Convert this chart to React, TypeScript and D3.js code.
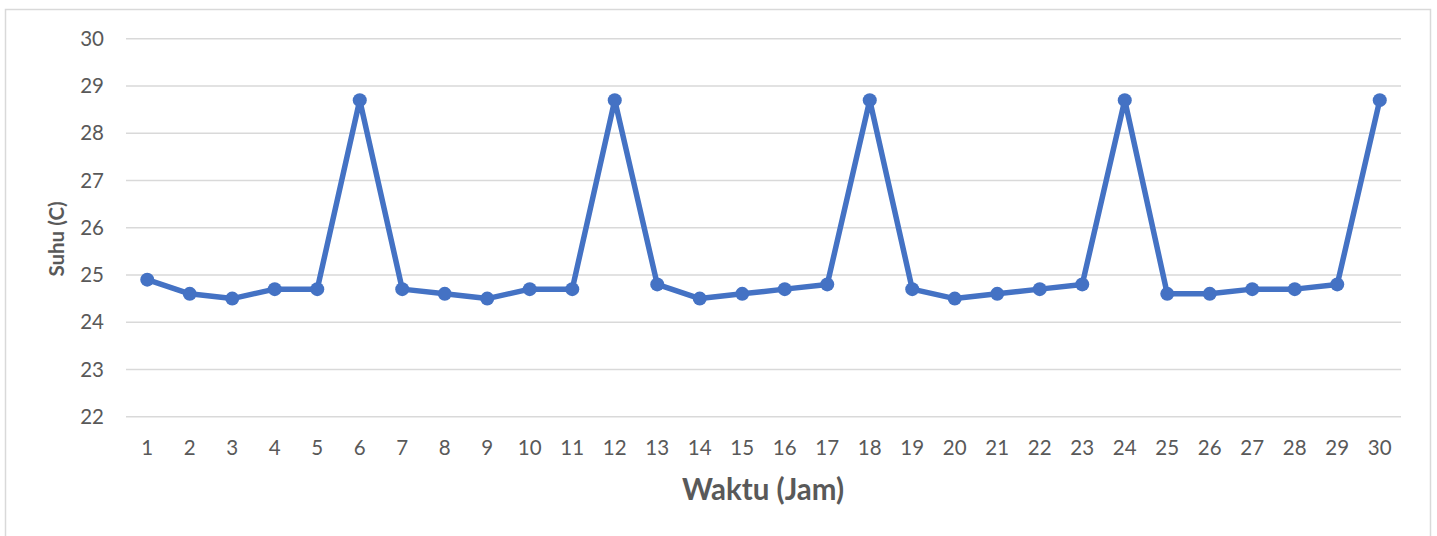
import React, { useEffect, useRef } from 'react';
import * as d3 from 'd3';

const hours = d3.range(1, 31).map(String);
const temps = [
  24.9, 24.6, 24.5, 24.7, 24.7, 28.7, 24.7, 24.6, 24.5, 24.7,
  24.7, 28.7, 24.8, 24.5, 24.6, 24.7, 24.8, 28.7, 24.7, 24.5,
  24.6, 24.7, 24.8, 28.7, 24.6, 24.6, 24.7, 24.7, 24.8, 28.7,
];
const yTicks = [22, 23, 24, 25, 26, 27, 28, 29, 30];

const W = 1437;
const H = 536;
const FONT = 'Lato, "Open Sans", sans-serif';

const App: React.FC = () => {
  const svgRef = useRef<SVGSVGElement>(null);

  useEffect(() => {
    if (!svgRef.current) return;
    const svg = d3.select(svgRef.current);
    svg.selectAll('*').remove();

    // plot area, in page pixels
    const left = 126, right = 1401, top = 38.7, bottom = 416.7;

    const x = d3.scaleBand().domain(hours).range([left, right]);
    const y = d3.scaleLinear().domain([22, 30]).range([bottom, top]);

    // outer frame
    svg.append('rect')
      .attr('x', 5.5).attr('y', 9.5)
      .attr('width', 1425).attr('height', 540)
      .attr('fill', '#fff')
      .attr('stroke', '#d9d9d9')
      .attr('stroke-width', 1.5);

    // gridlines
    svg.append('g')
      .selectAll('line')
      .data(yTicks)
      .enter().append('line')
      .attr('x1', left).attr('x2', right)
      .attr('y1', d => y(d)).attr('y2', d => y(d))
      .attr('stroke', '#d9d9d9')
      .attr('stroke-width', 1.5);

    // y tick labels
    svg.append('g')
      .selectAll('text')
      .data(yTicks)
      .enter().append('text')
      .attr('x', 104)
      .attr('y', d => y(d))
      .attr('dy', '0.35em')
      .style('text-anchor', 'end')
      .style('font-family', FONT)
      .style('font-size', '20.5px')
      .style('fill', '#595959')
      .text(d => d);

    // x tick labels
    svg.append('g')
      .selectAll('text')
      .data(hours)
      .enter().append('text')
      .attr('x', d => (x(d) || 0) + x.bandwidth() / 2)
      .attr('y', 448)
      .attr('dy', '0.35em')
      .style('text-anchor', 'middle')
      .style('font-family', FONT)
      .style('font-size', '20.5px')
      .style('fill', '#595959')
      .text(d => d);

    const cx = (i: number) => (x(hours[i]) || 0) + x.bandwidth() / 2;

    const line = d3.line<number>()
      .x((_d, i) => cx(i))
      .y(d => y(d));

    svg.append('path')
      .datum(temps)
      .attr('d', line)
      .attr('fill', 'none')
      .attr('stroke', '#4472c4')
      .attr('stroke-width', 5.5)
      .attr('stroke-linejoin', 'round');

    svg.append('g')
      .selectAll('circle')
      .data(temps)
      .enter().append('circle')
      .attr('cx', (_d, i) => cx(i))
      .attr('cy', d => y(d))
      .attr('r', 7)
      .attr('fill', '#4472c4');

    // axis titles
    svg.append('text')
      .attr('x', 763)
      .attr('y', 490)
      .attr('dy', '0.35em')
      .style('text-anchor', 'middle')
      .style('font-family', FONT)
      .style('font-size', '29.5px')
      .style('font-weight', 'bold')
      .style('fill', '#595959')
      .text('Waktu (Jam)');

    svg.append('text')
      .attr('transform', `translate(57, 239) rotate(-90)`)
      .attr('dy', '0.35em')
      .style('text-anchor', 'middle')
      .style('font-family', FONT)
      .style('font-size', '20.5px')
      .style('font-weight', 'bold')
      .style('fill', '#595959')
      .text('Suhu (C)');
  }, []);

  return (
    <svg
      ref={svgRef}
      width={W}
      height={H}
      style={{ position: 'absolute', left: 0, top: 0, display: 'block' }}
    />
  );
};

export default App;
